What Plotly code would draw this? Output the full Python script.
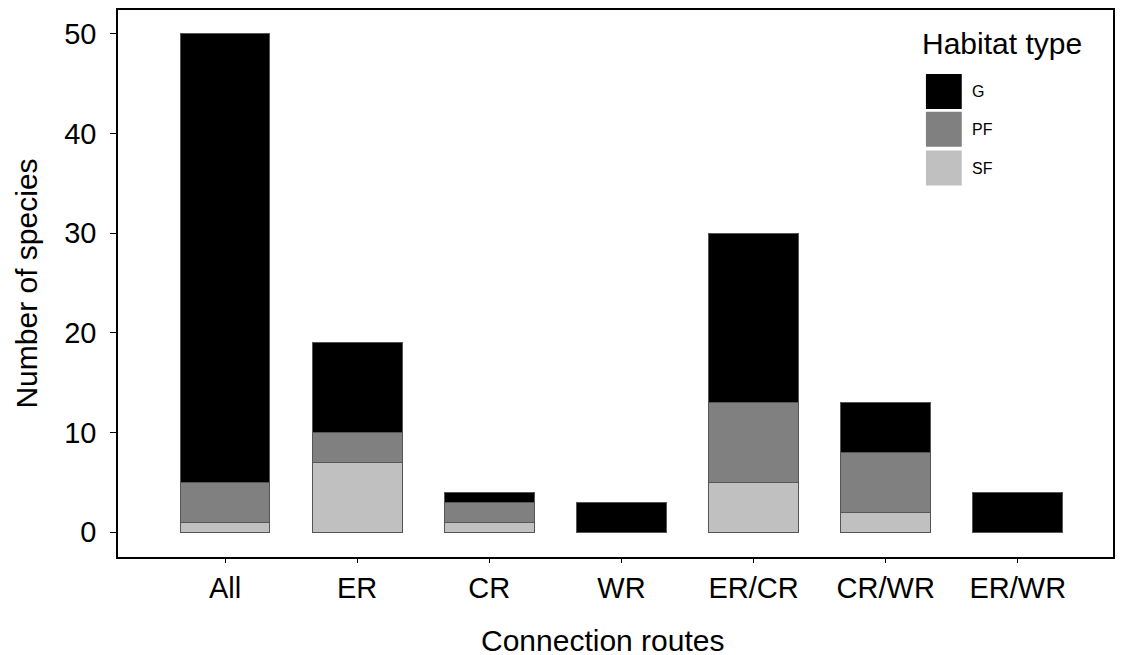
import plotly.graph_objects as go

routes = ["All", "ER", "CR", "WR", "ER/CR", "CR/WR", "ER/WR"]
sf = [1, 7, 1, 0, 5, 2, 0]
pf = [4, 3, 2, 0, 8, 6, 0]
g = [45, 9, 1, 3, 17, 5, 4]

series = [("SF", sf, "#c0c0c0"), ("PF", pf, "#808080"), ("G", g, "#000000")]

fig = go.Figure()
for name, vals, col in series:
    fig.add_trace(go.Bar(
        x=routes, y=vals, name=name,
        marker=dict(color=col, line=dict(color="#555555", width=1)),
        width=0.68, showlegend=False,
    ))

font = "Liberation Sans, Arial, sans-serif"

# manual legend with large swatches (G, PF, SF top to bottom)
box_x0, box_x1 = 0.812, 0.848
box_tops = [0.883, 0.814, 0.743]
box_h = 0.064
for (name, vals, col), top in zip(reversed(series), box_tops):
    fig.add_shape(type="rect", xref="paper", yref="paper",
                  x0=box_x0, x1=box_x1, y0=top - box_h, y1=top,
                  fillcolor=col, line=dict(width=0))
    fig.add_annotation(xref="paper", yref="paper", x=0.856, y=top - box_h / 2,
                       text=name, showarrow=False, xanchor="left", yanchor="middle",
                       font=dict(size=16, family=font, color="black"))
fig.add_annotation(xref="paper", yref="paper", x=0.806, y=0.938,
                   text="Habitat type", showarrow=False, xanchor="left", yanchor="middle",
                   font=dict(size=30, family=font, color="black"))

# x-axis title (slightly left of centre, as in the reference)
fig.add_annotation(xref="paper", yref="paper", x=0.487, y=-0.152,
                   text="Connection routes", showarrow=False, xanchor="center", yanchor="middle",
                   font=dict(size=30, family=font, color="black"))

fig.update_layout(
    barmode="stack",
    width=1126, height=655,
    margin=dict(l=110, r=21, t=0, b=106),
    plot_bgcolor="white", paper_bgcolor="white",
    font=dict(family=font, color="black"),
    showlegend=False,
)
fig.update_xaxes(
    range=[-0.81, 6.72],
    showline=True, linecolor="black", linewidth=1.5, mirror=True,
    ticks="outside", ticklen=4, tickcolor="black",
    tickfont=dict(size=29),
    showgrid=False,
)
fig.update_yaxes(
    range=[-2.5, 52.4],
    tickvals=[0, 10, 20, 30, 40, 50],
    showline=True, linecolor="black", linewidth=1.5, mirror=True,
    ticks="outside", ticklen=6, tickcolor="black",
    tickfont=dict(size=29), ticklabelstandoff=8,
    title=dict(text="Number of species", font=dict(size=30), standoff=18),
    showgrid=False, zeroline=False,
)
fig.write_html("out.html")
